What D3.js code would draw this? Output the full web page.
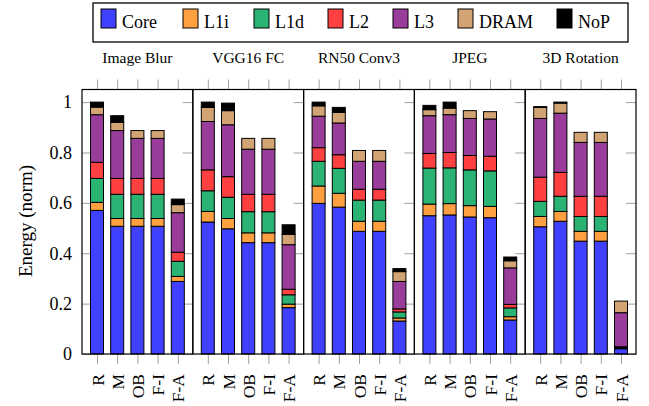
<!DOCTYPE html>
<html>
<head>
<meta charset="utf-8">
<script src="https://cdn.jsdelivr.net/npm/d3@7"></script>
<style>
  body { margin: 0; background: #fff; }
  svg text { font-family: "Liberation Serif", "DejaVu Serif", serif; fill: #000; }
  .tick line { stroke: #a0a0a0; }
  .domain { display: none; }
</style>
</head>
<body>
<div id="chart"></div>
<script>
// workloads (panels) and the configurations inside each
var workloads = ["Image Blur", "VGG16 FC", "RN50 Conv3", "JPEG", "3D Rotation"];
var configs = ["R", "M", "OB", "F-I", "F-A"];
var series = ["Core", "L1i", "L1d", "L2", "L3", "DRAM", "NoP"];
var colors = ["#4040ff", "#ffa040", "#2ab373", "#ff4040", "#9a3c9a", "#d2a373", "#000000"];
var yTicks = [0, 0.2, 0.4, 0.6, 0.8, 1];

// energy per component, one row per workload, one value per config
var core = [[0.570, 0.507, 0.507, 0.507, 0.288],
            [0.524, 0.497, 0.442, 0.442, 0.184],
            [0.598, 0.583, 0.487, 0.487, 0.131],
            [0.549, 0.552, 0.544, 0.541, 0.135],
            [0.505, 0.527, 0.448, 0.448, 0.021]];
var l1i  = [[0.032, 0.031, 0.031, 0.031, 0.020],
            [0.042, 0.041, 0.039, 0.039, 0.014],
            [0.069, 0.055, 0.040, 0.040, 0.012],
            [0.046, 0.045, 0.045, 0.045, 0.013],
            [0.041, 0.039, 0.039, 0.039, 0.003]];
var l1d  = [[0.095, 0.096, 0.096, 0.096, 0.060],
            [0.082, 0.084, 0.084, 0.084, 0.037],
            [0.098, 0.099, 0.084, 0.084, 0.024],
            [0.143, 0.142, 0.142, 0.141, 0.035],
            [0.060, 0.060, 0.059, 0.059, 0.003]];
var l2   = [[0.064, 0.063, 0.063, 0.063, 0.036],
            [0.083, 0.082, 0.069, 0.069, 0.022],
            [0.054, 0.054, 0.043, 0.043, 0.012],
            [0.058, 0.061, 0.057, 0.058, 0.014],
            [0.096, 0.095, 0.080, 0.080, 0.002]];
var l3   = [[0.189, 0.190, 0.159, 0.159, 0.157],
            [0.192, 0.206, 0.179, 0.179, 0.177],
            [0.125, 0.126, 0.111, 0.111, 0.109],
            [0.150, 0.150, 0.147, 0.148, 0.145],
            [0.233, 0.235, 0.214, 0.214, 0.135]];
var dram = [[0.030, 0.032, 0.031, 0.031, 0.032],
            [0.056, 0.056, 0.043, 0.043, 0.041],
            [0.041, 0.042, 0.043, 0.043, 0.039],
            [0.024, 0.026, 0.031, 0.029, 0.028],
            [0.044, 0.040, 0.040, 0.040, 0.046]];
var nop  = [[0.020, 0.027, 0.000, 0.000, 0.022],
            [0.021, 0.030, 0.000, 0.000, 0.038],
            [0.015, 0.020, 0.000, 0.000, 0.012],
            [0.017, 0.024, 0.000, 0.000, 0.015],
            [0.003, 0.004, 0.000, 0.000, 0.000]];

var values = [core, l1i, l1d, l2, l3, dram, nop];

var width = 649, height = 406;
var plotLeft = 82, plotRight = 636, plotTop = 89.5, plotBottom = 354;

var svg = d3.select("#chart").append("svg")
    .attr("width", width)
    .attr("height", height);

var x0 = d3.scaleBand().domain(workloads).range([plotLeft, plotRight]);
var pw = x0.bandwidth();
var x1 = d3.scalePoint().domain(configs).range([15, pw - 15]);
var y = d3.scaleLinear().domain([0, 1.05]).range([plotBottom, plotTop]);
var color = d3.scaleOrdinal().domain(series).range(colors);
var barW = 13;

// y axis labels + inner ticks on the first panel
svg.append("g")
    .attr("transform", "translate(" + plotLeft + ",0)")
    .call(d3.axisLeft(y).tickValues(yTicks).tickSize(-9).tickPadding(10).tickFormat(d3.format("")))
    .call(function(g) { g.selectAll("text").style("font-size", "18px"); });

workloads.forEach(function(w, i) {
    var px = x0(w);
    var g = svg.append("g").attr("transform", "translate(" + px + ",0)");

    // right inner ticks
    g.append("g")
        .attr("transform", "translate(" + pw + ",0)")
        .call(d3.axisRight(y).tickValues(yTicks).tickSize(-10).tickFormat(""));

    // top ticks (outward)
    g.append("g")
        .attr("transform", "translate(0," + plotTop + ")")
        .call(d3.axisTop(x1).tickSize(10).tickFormat(""));

    // bottom ticks + rotated labels
    g.append("g")
        .attr("transform", "translate(0," + plotBottom + ")")
        .call(d3.axisBottom(x1).tickSize(10))
        .selectAll("text")
            .style("font-size", "17.5px")
            .attr("transform", "rotate(-90)")
            .attr("text-anchor", "end")
            .attr("x", -20)
            .attr("y", 0)
            .attr("dy", "0.35em");

    // stacked bars
    var rows = configs.map(function(c, j) {
        var r = { config: c };
        series.forEach(function(s, k) { r[s] = values[k][i][j]; });
        return r;
    });
    var stacked = d3.stack().keys(series)(rows);

    g.selectAll("g.layer")
        .data(stacked)
        .enter().append("g")
            .attr("class", "layer")
            .attr("fill", function(d) { return color(d.key); })
        .selectAll("rect")
        .data(function(d) { return d.filter(function(p) { return p[1] - p[0] > 0; }); })
        .enter().append("rect")
            .attr("x", function(d) { return x1(d.data.config) - barW / 2; })
            .attr("y", function(d) { return y(d[1]); })
            .attr("width", barW)
            .attr("height", function(d) { return y(d[0]) - y(d[1]); })
            .attr("stroke", "#000")
            .attr("stroke-width", 1);

    // panel title
    svg.append("text")
        .attr("x", px + pw / 2)
        .attr("y", 63)
        .attr("text-anchor", "middle")
        .style("font-size", "15.5px")
        .text(w);

    // panel frame
    g.append("rect")
        .attr("x", 0)
        .attr("y", plotTop)
        .attr("width", pw)
        .attr("height", plotBottom - plotTop)
        .attr("fill", "none")
        .attr("stroke", "#000")
        .attr("stroke-width", 1.2);
});

// y axis title
svg.append("text")
    .attr("transform", "rotate(-90)")
    .attr("x", -221)
    .attr("y", 25)
    .attr("dy", "0.35em")
    .attr("text-anchor", "middle")
    .style("font-size", "19px")
    .text("Energy (norm)");

// legend
var legend = svg.append("g");
legend.append("rect")
    .attr("x", 93)
    .attr("y", 3)
    .attr("width", 535)
    .attr("height", 39)
    .attr("fill", "#fff")
    .attr("stroke", "#000")
    .attr("stroke-width", 1.3);

var legendX = [101, 183, 254, 328, 393, 458, 557];
series.forEach(function(s, k) {
    legend.append("rect")
        .attr("x", legendX[k])
        .attr("y", 9)
        .attr("width", 15)
        .attr("height", 19)
        .attr("fill", color(s))
        .attr("stroke", "#000")
        .attr("stroke-width", 1);
    legend.append("text")
        .attr("x", legendX[k] + 21)
        .attr("y", 28)
        .style("font-size", "18px")
        .text(s);
});
</script>
</body>
</html>
